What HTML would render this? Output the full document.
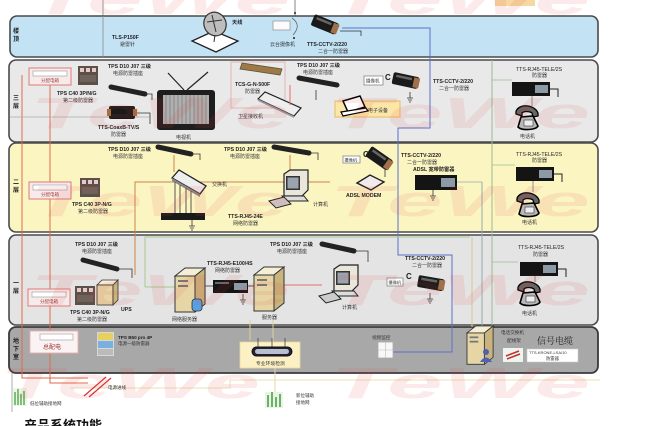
<!DOCTYPE html>
<html><head><meta charset="utf-8"><style>
html,body{margin:0;padding:0;background:#fff;}
svg{display:block;}
text{font-family:"Liberation Sans","Noto Sans CJK SC",sans-serif;}
.b{font-weight:bold;font-size:5.2px;fill:#222;}
.c{font-size:5px;fill:#333;}
.f{font-weight:bold;font-size:6px;fill:#222;}
</style></head><body>
<svg width="656" height="426" viewBox="0 0 656 426" xmlns="http://www.w3.org/2000/svg">
<defs>
<g id="ph">
 <path d="M2 9 C1 3 8 0 14 1 C20 2 25 6 24 11 L19 12 L18 8 C15 6 10 6 8 8 L8 11 Z" fill="#666" stroke="#000" stroke-width="1.3"/>
 <path d="M7 12 L19 11 L24 21 C22 25 8 26 4 22 Z" fill="#b8b8b8" stroke="#000" stroke-width="1.6"/>
 <rect x="10" y="15" width="9" height="6" fill="#eee" stroke="#333" stroke-width=".6"/>
</g>
<g id="dev"><rect width="38" height="14" fill="#141414"/><rect x="23" y="3" width="13" height="8" fill="#8c9aa6"/><path d="M38 7 H46 V15" fill="none" stroke="#222" stroke-width="1"/></g>
<g id="gnd"><path d="M0 0 V6 M-3 6 H3 M-2 8 H2 M-1 10 H1" stroke="#333" stroke-width=".8" fill="none"/></g>
<g id="cam"><rect x="0" y="0" width="26" height="12" rx="2" fill="#1a1a1a"/><rect x="21" y="1" width="6" height="10" fill="#a0704a"/><rect x="3" y="2" width="16" height="2.5" fill="#666"/></g>
<g id="tower">
 <path d="M0 8 L10 0 L30 0 L20 8 Z" fill="#f5eed6" stroke="#333" stroke-width="1"/>
 <rect x="0" y="8" width="20" height="36" fill="#e6d6a6" stroke="#333" stroke-width="1"/>
 <path d="M20 8 L30 0 L30 36 L20 44 Z" fill="#c8b47c" stroke="#333" stroke-width="1"/>
 <rect x="3" y="12" width="10" height="2" fill="#777"/><rect x="3" y="17" width="10" height="2" fill="#777"/>
</g>
<g id="pc">
 <path d="M6 4 L12 0 L30 0 L30 20 L24 26 L6 26 Z" fill="#ebe6da" stroke="#222" stroke-width="1.2"/>
 <rect x="8" y="6" width="14" height="14" fill="#333"/><rect x="9.5" y="7.5" width="11" height="11" fill="#9aa4ae"/>
 <path d="M4 26 L26 26 L30 31 L8 31 Z" fill="#ddd" stroke="#222" stroke-width="1"/>
 <path d="M-9 31 L6 27 L13 34 L-2 38 Z" fill="#ccc" stroke="#222" stroke-width="1"/>
</g>
<g id="tps"><rect width="20" height="19" fill="#5c5048"/><rect x="2" y="2" width="4" height="4" fill="#e8c8c8"/><rect x="8" y="2" width="4" height="4" fill="#e8c8c8"/><rect x="14" y="2" width="4" height="4" fill="#e8c8c8"/><rect x="2" y="9" width="16" height="7" fill="#6e625a"/></g>
<g id="pdb"><rect width="42" height="17" fill="#f7eaea" stroke="#e07878" stroke-width="1"/><rect x="4" y="3" width="34" height="5" fill="#fff" stroke="#999" stroke-width=".6"/><text x="12" y="14" style="font-size:4.5px;fill:#a04040">分配电箱</text></g>
</defs>

<!-- top strip -->
<line x1="103" y1="0" x2="103" y2="57" stroke="#8a8a8a" stroke-width=".8"/>
<line x1="295" y1="0" x2="295" y2="16" stroke="#666" stroke-width=".8"/>
<rect x="495" y="0" width="40" height="6" fill="#f6d9a0"/>

<!-- panels -->
<rect x="10" y="16" width="588" height="41" rx="7" fill="#c3e3f5" stroke="#4a4a4a" stroke-width="1.6"/>
<rect x="9" y="60" width="589" height="82" rx="7" fill="#e9e9e9" stroke="#4a4a4a" stroke-width="1.6"/>
<rect x="9" y="143" width="589" height="89" rx="7" fill="#fbf5c2" stroke="#4a4a4a" stroke-width="1.6"/>
<rect x="9" y="235" width="589" height="90" rx="7" fill="#e4e4e4" stroke="#4a4a4a" stroke-width="1.6"/>
<rect x="9" y="327" width="589" height="46" rx="7" fill="#a8a8a8" stroke="#3a3a3a" stroke-width="1.8"/>
<line x1="103" y1="16" x2="103" y2="57" stroke="#8a8a8a" stroke-width=".8"/>

<!-- bottom area -->
<line x1="12" y1="373" x2="12" y2="412" stroke="#999" stroke-width=".8"/>
<path d="M70 388 H230 V380 H600" fill="none" stroke="#efe0b0" stroke-width="1"/>
<path d="M22 75 V378 H88" fill="none" stroke="#e06a4a" stroke-width="1"/>
<path d="M50 85 V383 H88" fill="none" stroke="#e06a4a" stroke-width="1"/>
<path d="M84 396 L106 377 M89 397 L111 378" stroke="#d83030" stroke-width="1.2"/>
<text x="108" y="389" class="c" style="font-size:4.5px">电源进线</text>
<rect x="13" y="388" width="14" height="18" fill="#dbeed0" opacity=".5"/>
<g fill="#7cc07c"><rect x="14" y="392" width="2" height="13"/><rect x="17" y="389" width="2" height="16"/><rect x="20" y="394" width="2" height="11"/><rect x="23" y="391" width="2" height="14"/></g>
<text x="30" y="405" class="c" style="font-size:4.5px">低位辅助接地网</text>
<rect x="265" y="392" width="18" height="16" fill="#dbeed0" opacity=".6"/>
<g fill="#6cb06c"><rect x="267" y="395" width="2" height="12"/><rect x="271" y="392" width="2" height="15"/><rect x="275" y="397" width="2" height="10"/><rect x="279" y="394" width="2" height="13"/></g>
<text x="296" y="397" class="c" style="font-size:4.5px">新位辅助</text>
<text x="296" y="404" class="c" style="font-size:4.5px">接地网</text>
<line x1="275" y1="368" x2="275" y2="392" stroke="#e8d8a0" stroke-width="1"/>
<text x="24" y="430" style="font-size:13px;font-weight:bold;fill:#111">产品系统功能</text>

<!-- floor labels -->
<text x="13" y="33" class="f">楼</text><text x="13" y="41" class="f">顶</text>
<text x="13" y="100" class="f">三</text><text x="13" y="108" class="f">层</text>
<text x="13" y="184" class="f">二</text><text x="13" y="192" class="f">层</text>
<text x="13" y="343" class="f">地</text><text x="13" y="351" class="f">下</text><text x="13" y="359" class="f">室</text>
<text x="13" y="285" class="f">一</text><text x="13" y="293" class="f">层</text>

<!-- connector lines -->
<path d="M342 28 H430 V128 H398 V255 H452 V352 H393" fill="none" stroke="#5a70c8" stroke-width="1"/>
<line x1="492" y1="60" x2="492" y2="327" stroke="#9cbc94" stroke-width="1"/>
<line x1="482" y1="182" x2="482" y2="327" stroke="#9aa" stroke-width="1"/>
<line x1="472" y1="237" x2="472" y2="327" stroke="#d8c890" stroke-width="1"/>
<path d="M492 80 H512 M492 165 H515 M492 262 H518" stroke="#9cbc94" stroke-width=".8"/>
<line x1="10" y1="117" x2="150" y2="117" stroke="#aaa" stroke-width=".7"/>
<path d="M135 275 V182 H330" fill="none" stroke="#c9864a" stroke-width="1"/>
<path d="M145 287 V237 H470 M145 287 H175" fill="none" stroke="#a8c890" stroke-width="1"/>
<line x1="282" y1="285" x2="322" y2="285" stroke="#e07070" stroke-width="1"/>
<path d="M250 320 V340 M273 320 V342" stroke="#e0d090" stroke-width="1"/>

<!-- ROOF -->
<text x="112" y="39" class="b">TLS-P150F</text>
<text x="120" y="46" class="c">避雷针</text>
<path d="M192 41 L214 31 L238 41 L216 52 Z" fill="#fff" stroke="#222" stroke-width="1.3"/>
<ellipse cx="215" cy="24" rx="11" ry="12" transform="rotate(-25 215 24)" fill="#bdbdbd" stroke="#333" stroke-width="1.2"/>
<path d="M207 22 L222 20 M212 15 L216 32 M215 35 L214 42" stroke="#333" stroke-width="1" fill="none"/>
<text x="232" y="24" class="b">天线</text>
<rect x="273" y="21" width="17" height="9" fill="#fbfbfb" stroke="#999" stroke-width=".8"/>
<path d="M292 18 Q302 25 293 35" fill="none" stroke="#666" stroke-width=".8"/>
<circle cx="295" cy="13" r="1" fill="#222"/><circle cx="294" cy="38" r="1" fill="#222"/>
<text x="270" y="46" class="c">云台摄像机</text>
<g transform="translate(315,14) rotate(22)"><use href="#cam"/></g>
<path d="M340 31 H361 V36" fill="none" stroke="#333" stroke-width=".8"/>
<text x="307" y="46" class="b">TTS-CCTV-2/220</text>
<text x="318" y="53" class="c">二合一防雷器</text>

<!-- 三层 -->
<use href="#pdb" x="29" y="68"/>
<use href="#tps" x="78" y="66"/>
<text x="57" y="95" class="b">TPS C40 3P/N/G</text>
<text x="63" y="102" class="c">第二级防雷器</text>
<text x="108" y="68" class="b">TPS D10 J07 三级</text>
<text x="113" y="75" class="c">电源防雷插座</text>
<line x1="111" y1="87" x2="145" y2="94" stroke="#222" stroke-width="5" stroke-linecap="round"/>
<path d="M145 94 H152 V100" fill="none" stroke="#333" stroke-width=".8"/>
<g transform="translate(109,106)"><rect width="26" height="13" rx="2" fill="#1a1a1a"/><rect x="-2" y="3" width="4" height="7" fill="#a07040"/><rect x="24" y="3" width="4" height="7" fill="#a07040"/></g>
<path d="M137 113 H150 V124" fill="none" stroke="#333" stroke-width=".8"/>
<text x="98" y="129" class="b">TTS-CoaxB-TV/S</text>
<text x="111" y="136" class="c">防雷器</text>
<path d="M184 90 L168 73 M187 90 L208 72" stroke="#222" stroke-width="1.2"/>
<rect x="157" y="90" width="58" height="40" rx="3" fill="#1e1e1e"/>
<rect x="163" y="95" width="46" height="29" fill="#b0b0b0"/>
<g stroke="#888" stroke-width="1"><path d="M166 95V124M170 95V124M174 95V124M178 95V124M182 95V124M186 95V124M190 95V124M194 95V124M198 95V124M202 95V124M206 95V124"/></g>
<text x="176" y="139" class="c">电视机</text>
<rect x="231" y="62" width="54" height="46" fill="none" stroke="#e8a8a8" stroke-width=".8"/>
<path d="M242 63 L282 69 L280 75 L240 69 Z" fill="#a07848" stroke="#553" stroke-width=".8"/>
<text x="235" y="86" class="b">TCS-G-N-500F</text>
<text x="245" y="93" class="c">防雷器</text>
<path d="M258 99 L265 92 L301 108 L294 116 Z" fill="#eee" stroke="#222" stroke-width="1.2"/>
<path d="M258 99 L294 116 L294 118 L258 101 Z" fill="#999"/>
<text x="238" y="118" class="c">卫星接收机</text>
<text x="297" y="67" class="b">TPS D10 J07 三级</text>
<text x="303" y="74" class="c">电源防雷插座</text>
<line x1="299" y1="78" x2="337" y2="85" stroke="#222" stroke-width="5" stroke-linecap="round"/>
<line x1="290" y1="85" x2="290" y2="105" stroke="#e07070" stroke-width="1"/>
<path d="M316 90 V100" stroke="#333" stroke-width=".8"/>
<rect x="335" y="101" width="65" height="16" fill="#fbe7a8" stroke="#e8b868" stroke-width="1"/>
<path d="M343 101 L360 96 L365 107 L348 112 Z" fill="#fff" stroke="#000" stroke-width="1.5"/>
<path d="M341 112 L366 108 L368 111 L343 116 Z" fill="#fff" stroke="#000" stroke-width="1.2"/>
<text x="368" y="112" class="c">电子设备</text>
<rect x="364" y="76" width="19" height="9" fill="#fff" stroke="#888" stroke-width=".8"/>
<text x="366" y="82.5" class="c" style="font-size:4.5px">摄像机</text>
<text x="385" y="80" style="font-size:8px;font-weight:bold;fill:#222">C</text>
<g transform="translate(394,72) rotate(12)"><use href="#cam"/></g>
<use href="#gnd" x="410" y="92"/>
<text x="433" y="83" class="b">TTS-CCTV-2/220</text>
<text x="439" y="90" class="c">二合一防雷器</text>
<text x="516" y="71" class="b" style="font-weight:normal">TTS-RJ45-TELE/2S</text>
<text x="532" y="77" class="c">防雷器</text>
<use href="#dev" x="512" y="82"/>
<line x1="532" y1="96" x2="532" y2="106" stroke="#777" stroke-width=".8"/>
<use href="#ph" x="514" y="105"/>
<text x="520" y="138" class="c">电话机</text>

<!-- 二层 -->
<use href="#pdb" x="29" y="182"/>
<use href="#tps" x="80" y="178"/>
<text x="72" y="206" class="b">TPS C40 3P-N/G</text>
<text x="78" y="213" class="c">第二级防雷器</text>
<text x="108" y="151" class="b">TPS D10 J07 三级</text>
<text x="113" y="158" class="c">电源防雷插座</text>
<line x1="158" y1="147" x2="191" y2="154" stroke="#222" stroke-width="5" stroke-linecap="round"/>
<path d="M192 154 H200 V160" fill="none" stroke="#333" stroke-width=".8"/>
<line x1="174" y1="155" x2="174" y2="172" stroke="#c9864a" stroke-width="1"/>
<path d="M172 178 L179 170 L206 186 L200 194 Z" fill="#eee" stroke="#222" stroke-width="1.3"/>
<path d="M172 178 L200 194 L200 197 L172 181 Z" fill="#888"/>
<text x="212" y="186" class="c">交换机</text>
<g stroke="#333" stroke-width=".8"><path d="M175 182V214M180 185V214M186 188V214M191 191V214"/></g>
<rect x="161" y="213" width="44" height="7" fill="#1a1a1a"/>
<use href="#gnd" x="192" y="220"/>
<text x="228" y="218" class="b">TTS-RJ45-24E</text>
<text x="233" y="225" class="c">网络防雷器</text>
<text x="224" y="151" class="b">TPS D10 J07 三级</text>
<text x="230" y="158" class="c">电源防雷插座</text>
<line x1="274" y1="147" x2="309" y2="153" stroke="#222" stroke-width="5" stroke-linecap="round"/>
<path d="M310 153 H318 V160" fill="none" stroke="#333" stroke-width=".8"/>
<line x1="290" y1="155" x2="290" y2="170" stroke="#c9864a" stroke-width="1"/>
<use href="#pc" x="278" y="170"/>
<text x="313" y="206" class="c">计算机</text>
<rect x="343" y="156" width="17" height="7" fill="#fff" stroke="#888" stroke-width=".8"/>
<text x="344.5" y="161.5" class="c" style="font-size:4.2px">摄像机</text>
<text x="363" y="157" style="font-size:8px;font-weight:bold;fill:#222">C</text>
<g transform="translate(372,146) rotate(35)"><use href="#cam"/></g>
<line x1="385" y1="170" x2="385" y2="177" stroke="#333" stroke-width=".8"/>
<path d="M357 183 L370 175 L384 182 L371 190 Z" fill="#f2eaea" stroke="#222" stroke-width="1.4"/>
<text x="346" y="197" class="b">ADSL MODEM</text>
<text x="401" y="157" class="b">TTS-CCTV-2/220</text>
<text x="407" y="164" class="c">二合一防雷器</text>
<text x="413" y="171" class="b">ADSL 宽带防雷器</text>
<g transform="translate(415,175)"><rect width="42" height="15" fill="#141414"/><rect x="26" y="3" width="14" height="9" fill="#8c9aa6"/></g>
<use href="#gnd" x="433" y="190"/>
<path d="M457 182 H482" stroke="#9aa" stroke-width=".8"/>
<text x="516" y="156" class="b" style="font-weight:normal">TTS-RJ45-TELE/2S</text>
<text x="532" y="162" class="c">防雷器</text>
<use href="#dev" x="516" y="167"/>
<line x1="533" y1="181" x2="533" y2="192" stroke="#777" stroke-width=".8"/>
<use href="#ph" x="515" y="192"/>
<text x="522" y="224" class="c">电话机</text>

<!-- 一层 -->
<text x="75" y="246" class="b">TPS D10 J07 三级</text>
<text x="82" y="253" class="c">电源防雷插座</text>
<line x1="83" y1="260" x2="117" y2="269" stroke="#222" stroke-width="5" stroke-linecap="round"/>
<path d="M118 269 H132 V278" fill="none" stroke="#333" stroke-width=".8"/>
<use href="#pdb" x="28" y="289"/>
<use href="#tps" x="75" y="286"/>
<g transform="translate(97,280)"><path d="M0 5 L5 0 L21 0 L16 5 Z" fill="#f5eed6" stroke="#333" stroke-width=".8"/><rect x="0" y="5" width="16" height="20" fill="#e6d6a6" stroke="#333" stroke-width=".8"/><path d="M16 5 L21 0 L21 20 L16 25 Z" fill="#c8b47c" stroke="#333" stroke-width=".8"/></g>
<text x="121" y="311" class="b">UPS</text>
<text x="70" y="314" class="b">TPS C40 3P-N/G</text>
<text x="77" y="321" class="c">第二级防雷器</text>
<use href="#tower" x="175" y="268"/>
<rect x="192" y="299" width="10" height="12" rx="3" fill="#5aa0e0" stroke="#234" stroke-width=".8"/>
<text x="172" y="321" class="c">网络服务器</text>
<text x="207" y="265" class="b">TTS-RJ45-E100/4S</text>
<text x="215" y="272" class="c">网络防雷器</text>
<g transform="translate(213,280)"><rect width="35" height="13" fill="#141414"/><rect x="21" y="3" width="13" height="7" fill="#8c9aa6"/><rect x="2" y="2" width="14" height="2" fill="#667"/></g>
<line x1="205" y1="286" x2="213" y2="286" stroke="#333" stroke-width=".8"/>
<line x1="248" y1="286" x2="255" y2="286" stroke="#333" stroke-width=".8"/>
<use href="#gnd" x="243" y="294"/>
<use href="#tower" x="254" y="267"/>
<text x="262" y="319" class="c">服务器</text>
<text x="270" y="246" class="b">TPS D10 J07 三级</text>
<text x="277" y="253" class="c">电源防雷插座</text>
<line x1="322" y1="244" x2="354" y2="251" stroke="#222" stroke-width="5" stroke-linecap="round"/>
<path d="M355 251 H368 V262" fill="none" stroke="#333" stroke-width=".8"/>
<use href="#pc" x="328" y="265"/>
<text x="342" y="309" class="c">计算机</text>
<text x="405" y="260" class="b">TTS-CCTV-2/220</text>
<text x="412" y="267" class="c">二合一防雷器</text>
<rect x="387" y="278" width="16" height="8" fill="#fff" stroke="#888" stroke-width=".8"/>
<text x="388.5" y="284" class="c" style="font-size:4.2px">摄像机</text>
<text x="406" y="279" style="font-size:8px;font-weight:bold;fill:#222">C</text>
<g transform="translate(419,275) rotate(10)"><use href="#cam"/></g>
<use href="#gnd" x="430" y="293"/>
<text x="518" y="249" class="b" style="font-weight:normal">TTS-RJ45-TELE/2S</text>
<text x="533" y="256" class="c">防雷器</text>
<use href="#dev" x="520" y="262"/>
<line x1="535" y1="276" x2="535" y2="282" stroke="#777" stroke-width=".8"/>
<use href="#ph" x="516" y="281"/>
<text x="522" y="315" class="c">电话机</text>

<!-- 地下室 -->
<rect x="30" y="331" width="48" height="22" fill="#fbf3f3" stroke="#e8b0b0" stroke-width="1"/>
<rect x="40" y="334" width="33" height="6" fill="#fff" stroke="#999" stroke-width=".6"/>
<text x="43" y="349" style="font-size:6px;fill:#a03030">总配电</text>
<g transform="translate(97,332)"><rect width="17" height="24" fill="#d8d8d8"/><rect x="1" y="1" width="15" height="7" fill="#e8d060"/><rect x="1" y="9" width="15" height="7" fill="#7ab0e0"/><rect x="1" y="17" width="15" height="6" fill="#bbb"/></g>
<text x="118" y="339" class="b" style="font-size:4.6px">TPS B50 pro 4P</text>
<text x="118" y="345" class="c" style="font-size:4.5px">电源一级防雷器</text>
<rect x="240" y="342" width="60" height="26" fill="#fcf1c4" stroke="#e8d8a0" stroke-width=".8"/>
<path d="M258 338 V348 M272 338 V348 M285 338 V348" stroke="#444" stroke-width=".8"/>
<rect x="252" y="347" width="40" height="9" rx="4.5" fill="#223" stroke="#111" stroke-width="1"/>
<rect x="255" y="349" width="34" height="5" rx="2.5" fill="#b8c0d0"/>
<text x="256" y="365" class="c" style="font-size:4.8px">专业环境检测</text>
<text x="372" y="339" class="c" style="font-size:4.6px">视频监控</text>
<rect x="378" y="342" width="15" height="16" fill="#f8f8f8" stroke="#aaa" stroke-width=".8"/>
<path d="M385.5 342V358M378 350H393" stroke="#bbb" stroke-width=".6"/>
<g transform="translate(467,326) scale(0.87)"><use href="#tower"/></g>
<circle cx="486" cy="352" r="3" fill="#5060b0"/><path d="M480 362 Q486 353 492 362 Z" fill="#5060b0"/>
<text x="501" y="334" class="c" style="font-size:4.6px">电话交换机</text>
<text x="507" y="342" class="c" style="font-size:4.6px">配线架</text>
<text x="537" y="344" style="font-size:9px;fill:#222;font-family:'Liberation Serif','Noto Serif CJK SC',serif">信号电缆</text>
<rect x="503" y="348" width="20" height="14" fill="#eef4ee"/>
<path d="M506 356 L519 351 M507 359 L520 354" stroke="#c03030" stroke-width="1.5"/>
<rect x="527" y="349" width="51" height="13" fill="#fff" stroke="#ccc" stroke-width=".6"/>
<text x="529" y="354" class="c" style="font-size:4px">TTS-KRONE-LSA/10</text>
<text x="546" y="360" class="c" style="font-size:4.3px">防雷器</text>

<!-- watermarks -->
<g style="font-style:italic;font-weight:bold;font-size:44px;fill:#e84040;opacity:.1">
 <text x="30" y="14" textLength="260" lengthAdjust="spacingAndGlyphs">TeWe</text>
 <text x="330" y="14" textLength="260" lengthAdjust="spacingAndGlyphs">TeWe</text>
 <text x="30" y="128" textLength="260" lengthAdjust="spacingAndGlyphs">TeWe</text>
 <text x="330" y="128" textLength="260" lengthAdjust="spacingAndGlyphs">TeWe</text>
 <text x="30" y="216" textLength="260" lengthAdjust="spacingAndGlyphs">TeWe</text>
 <text x="330" y="216" textLength="260" lengthAdjust="spacingAndGlyphs">TeWe</text>
 <text x="30" y="305" textLength="260" lengthAdjust="spacingAndGlyphs">TeWe</text>
 <text x="330" y="305" textLength="260" lengthAdjust="spacingAndGlyphs">TeWe</text>
 <text x="0" y="398" textLength="260" lengthAdjust="spacingAndGlyphs">TeWe</text>
 <text x="330" y="398" textLength="260" lengthAdjust="spacingAndGlyphs">TeWe</text>
</g>
</svg>
</body></html>
